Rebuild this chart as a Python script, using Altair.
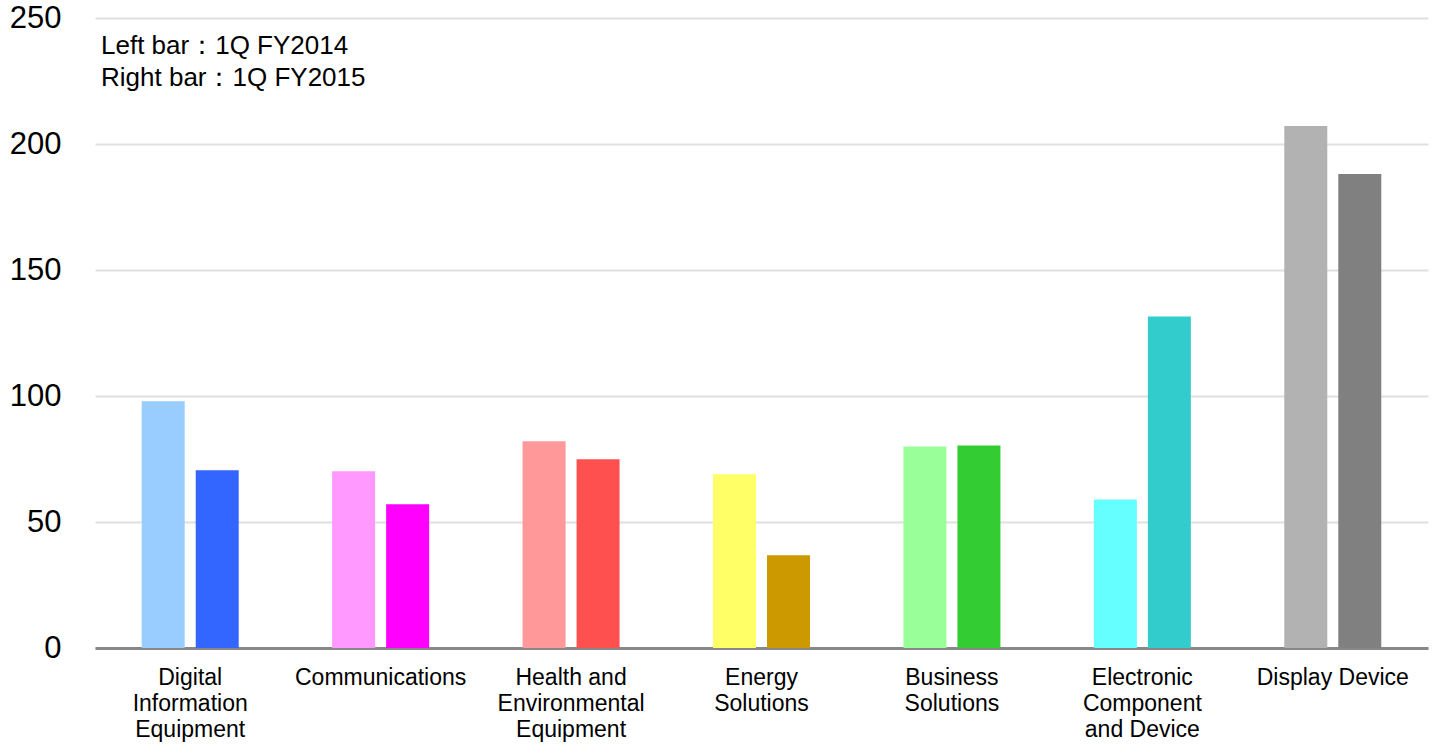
import altair as alt
import pandas as pd
import json

categories = [
    "Digital Information Equipment",
    "Communications",
    "Health and Environmental Equipment",
    "Energy Solutions",
    "Business Solutions",
    "Electronic Component and Device",
    "Display Device",
]
label_lines = [
    ["Digital", "Information", "Equipment"],
    ["Communications"],
    ["Health and", "Environmental", "Equipment"],
    ["Energy", "Solutions"],
    ["Business", "Solutions"],
    ["Electronic", "Component", "and Device"],
    ["Display Device"],
]
periods = ["1Q FY2014", "1Q FY2015"]
fy2014 = [97.9, 70.1, 82.0, 68.9, 80.0, 58.9, 207.1]
fy2015 = [70.5, 57.0, 74.9, 36.8, 80.4, 131.5, 188.1]
colors_2014 = ["#99CCFF", "#FF99FF", "#FF9999", "#FFFF66", "#99FF99", "#66FFFF", "#B2B2B2"]
colors_2015 = ["#3366FF", "#FF00FF", "#FF5050", "#CC9900", "#33CC33", "#33CCCC", "#808080"]
note_lines = ["Left bar\uff1a1Q FY2014", "Right bar\uff1a1Q FY2015"]

rows = []
dom, rng = [], []
for i, c in enumerate(categories):
    for p, vals, cols in [(periods[0], fy2014, colors_2014), (periods[1], fy2015, colors_2015)]:
        key = c + " | " + p
        rows.append({"category": c, "period": p, "value": vals[i], "key": key})
        dom.append(key)
        rng.append(cols[i])
df = pd.DataFrame(rows)

label_map = {c: l for c, l in zip(categories, label_lines)}
label_expr = json.dumps(label_map) + "[datum.value]"

FONT = "Liberation Sans"

bars = alt.Chart(df).mark_bar().encode(
    x=alt.X("category:N", sort=categories, title=None,
            scale=alt.Scale(paddingInner=0.4906, paddingOuter=0.2453),
            axis=alt.Axis(labelExpr=label_expr, labelAngle=0, labelFontSize=23,
                          labelFont=FONT, labelColor="#000000", labelLineHeight=26,
                          labelPadding=18, ticks=False, domain=True,
                          domainColor="#888888", domainWidth=3, labelBaseline="top",
                          grid=False)),
    xOffset=alt.XOffset("period:N", sort=periods,
                        scale=alt.Scale(paddingInner=0.2037, paddingOuter=0)),
    y=alt.Y("value:Q", title=None,
            scale=alt.Scale(domain=[0, 250], nice=False),
            axis=alt.Axis(values=[0, 50, 100, 150, 200, 250], labelFontSize=31,
                          labelFont=FONT, labelColor="#000000", labelPadding=34,
                          ticks=False, domain=False, gridColor="#E0E0E0",
                          gridWidth=2)),
    color=alt.Color("key:N", scale=alt.Scale(domain=dom, range=rng), legend=None),
)

note_df = pd.DataFrame({"line": note_lines, "idx": [0, 1]})
note = alt.Chart(note_df).mark_text(
    align="left", baseline="middle", font=FONT, fontSize=26, color="#000000"
).encode(
    x=alt.value(6),
    y=alt.Y("idx:Q", axis=None, scale=alt.Scale(domain=[0, 1], range=[28, 60])),
    text="line:N",
)

chart = alt.layer(bars, note).resolve_scale(y="independent").properties(
    width=1333, height=630,
    padding={"left": 95, "top": 18, "right": 8, "bottom": 98},
    autosize=alt.AutoSizeParams(type="none"),
    background="#FFFFFF",
).configure_view(stroke=None, strokeWidth=0)

chart.save("out.html", embed_options={"renderer": "svg", "actions": False})
